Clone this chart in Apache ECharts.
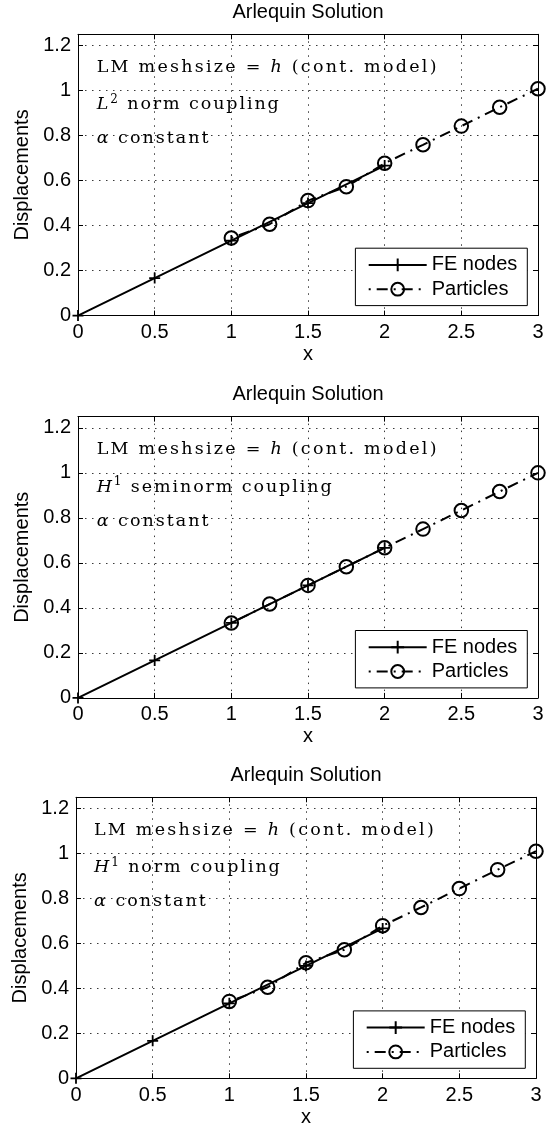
<!DOCTYPE html>
<html>
<head>
<meta charset="utf-8">
<script src="https://cdn.jsdelivr.net/npm/echarts@6/dist/echarts.min.js"></script>
<style>
html,body{margin:0;padding:0;background:#fff;}
#chart{width:550px;height:1133px;}
</style>
</head>
<body>
<div id="chart"></div>
<script>
// ---------------- data ----------------
const xFE = [0, 0.5, 1, 1.5, 2];
const yFE = [0, 0.1667, 0.3333, 0.5, 0.6667];
const xParticles = [1, 1.25, 1.5, 1.75, 2, 2.25, 2.5, 2.75, 3];
const yParticlesL2norm = [0.345, 0.406, 0.511, 0.573, 0.677, 0.759, 0.842, 0.926, 1.008];
const yParticlesH1seminorm = [0.333, 0.417, 0.5, 0.583, 0.667, 0.75, 0.833, 0.917, 1.0];
const yParticlesH1norm = [0.342, 0.405, 0.514, 0.572, 0.679, 0.760, 0.844, 0.928, 1.010];
const xTickValues = [0, 0.5, 1, 1.5, 2, 2.5, 3];
const xTickLabels = ['0', '0.5', '1', '1.5', '2', '2.5', '3'];
const yTickValues = [0, 0.2, 0.4, 0.6, 0.8, 1, 1.2];
const yTickLabels = ['0', '0.2', '0.4', '0.6', '0.8', '1', '1.2'];
const yMax = 1.25;
const panelTitle = 'Arlequin Solution';
const xAxisName = 'x';
const yAxisName = 'Displacements';
const seriesNames = ['FE nodes', 'Particles'];
const annotationLine1 = [['r', 'LM meshsize = '], ['i', 'h'], ['r', ' (cont. model)']];
const annotationLine2 = [
  [['i', 'L'], ['sup', '2'], ['r', ' norm coupling']],
  [['i', 'H'], ['sup', '1'], ['r', ' seminorm coupling']],
  [['i', 'H'], ['sup', '1'], ['r', ' norm coupling']]
];
const annotationLine3 = [['i', 'α'], ['r', ' constant']];
const particleSets = [yParticlesL2norm, yParticlesH1seminorm, yParticlesH1norm];

// ---------------- layout ----------------
const panels = [
  { left: 78, top: 34.3, width: 460, height: 281.3, textX: 96.7 },
  { left: 78, top: 416.6, width: 460, height: 281.3, textX: 96.7 },
  { left: 76, top: 797.3, width: 460, height: 281, textX: 94 }
];

const FONT = 'Liberation Sans, Arial, sans-serif';
const SERIF = 'DejaVu Serif, serif';
const TEXT_COLOR = '#1a1a1a';
const plusPath = 'path://M5,0L5,10M0,5L10,5';

function labelFor(values, labels) {
  return function (v) {
    for (let k = 0; k < values.length; k++) {
      if (Math.abs(values[k] - v) < 1e-6) return labels[k];
    }
    return '';
  };
}

function spaced(parts) {
  let s = '';
  parts.forEach(([style, str]) => {
    if (style === 'sup') { s += '{sup|' + str + '}'; return; }
    for (const ch of str) s += '{' + style + '|' + ch + '}';
  });
  return s;
}
function richStyles(gap) {
  return {
    r: { fontFamily: SERIF, fontSize: 17.5, lineHeight: 22, color: TEXT_COLOR, padding: [0, gap, 0, 0] },
    i: { fontFamily: SERIF, fontSize: 17.5, fontStyle: 'italic', lineHeight: 22, color: TEXT_COLOR, padding: [0, gap, 0, 0] },
    sup: { fontFamily: SERIF, fontSize: 12, lineHeight: 10, verticalAlign: 'top', color: TEXT_COLOR, padding: [0, gap, 0, 0] }
  };
}

const grid = [], xAxis = [], yAxis = [], series = [], legend = [], graphic = [];

panels.forEach((p, i) => {
  grid.push({ left: p.left, top: p.top, width: p.width, height: p.height, outerBoundsMode: 'none', containLabel: false });
  const tick = { show: true, inside: true, length: 5, lineStyle: { color: '#000', width: 1 } };
  const line = { show: true, onZero: false, lineStyle: { color: '#000', width: 1 } };
  xAxis.push({
    type: 'value', gridIndex: i, position: 'bottom',
    min: xTickValues[0], max: xTickValues[xTickValues.length - 1], interval: 0.5,
    axisLine: line, axisTick: tick,
    axisLabel: { show: true, margin: 7, color: '#000', fontFamily: FONT, fontSize: 20, formatter: labelFor(xTickValues, xTickLabels) },
    splitLine: { show: true, lineStyle: { color: '#3a3a3a', width: 1, type: [1.5, 5.5] } },
    name: xAxisName, nameLocation: 'middle', nameGap: 29,
    nameTextStyle: { color: '#000', fontFamily: FONT, fontSize: 20 }
  });
  xAxis.push({
    type: 'value', gridIndex: i, position: 'top',
    min: xTickValues[0], max: xTickValues[xTickValues.length - 1], interval: 0.5,
    axisLine: line, axisTick: tick, axisLabel: { show: false }, splitLine: { show: false }
  });
  yAxis.push({
    type: 'value', gridIndex: i, position: 'left',
    min: yTickValues[0], max: yMax, interval: 0.2,
    axisLine: line, axisTick: tick,
    axisLabel: { show: true, margin: 7, color: '#000', fontFamily: FONT, fontSize: 20, formatter: labelFor(yTickValues, yTickLabels) },
    splitLine: { show: true, lineStyle: { color: '#3a3a3a', width: 1, type: [1.5, 5.5] } },
    name: yAxisName, nameLocation: 'middle', nameGap: 45, nameRotate: 90,
    nameTextStyle: { color: '#000', fontFamily: FONT, fontSize: 20 }
  });
  yAxis.push({
    type: 'value', gridIndex: i, position: 'right',
    min: yTickValues[0], max: yMax, interval: 0.2,
    axisLine: line, axisTick: tick, axisLabel: { show: false }, splitLine: { show: false }
  });

  series.push({
    name: seriesNames[0], type: 'line', xAxisIndex: 2 * i, yAxisIndex: 2 * i,
    data: xFE.map((x, k) => [x, yFE[k]]),
    symbol: plusPath, symbolSize: 11, showSymbol: true, clip: false,
    lineStyle: { color: '#000', width: 2 },
    itemStyle: { color: 'none', borderColor: '#000', borderWidth: 1.8 },
    emphasis: { disabled: true }, silent: true, z: 3
  });
  series.push({
    name: seriesNames[1], type: 'line', xAxisIndex: 2 * i, yAxisIndex: 2 * i,
    data: xParticles.map((x, k) => [x, particleSets[i][k]]),
    symbol: 'circle', symbolSize: 13.5, showSymbol: true, clip: false,
    lineStyle: { color: '#000', width: 2, type: [11, 6, 2, 6], dashOffset: 17 },
    itemStyle: { color: 'none', borderColor: '#000', borderWidth: 2 },
    emphasis: { disabled: true }, silent: true, z: 4
  });

  const legendRight = 550 - (p.left + p.width - 10.7);
  legend.push({
    data: seriesNames, orient: 'vertical', right: legendRight, top: p.top + p.height - 10 - 57.4,
    itemWidth: 58, itemHeight: 16, itemGap: 4.3,
    padding: [6.7, 10, 6.4, 12.3],
    borderColor: '#000', borderWidth: 1, backgroundColor: '#fff', borderRadius: 0,
    selectedMode: false,
    textStyle: { color: '#000', fontFamily: FONT, fontSize: 20 }
  });

  const cx = p.left + p.width / 2;
  graphic.push({
    type: 'text', x: cx, y: p.top - 22, silent: true,
    style: { text: panelTitle, fill: '#000', font: '20px ' + FONT, align: 'center', verticalAlign: 'middle' }
  });
  const lines = [[annotationLine1, 39, 2.25], [annotationLine2[i], 76.5, 1.9], [annotationLine3, 110.5, 2.0]];
  lines.forEach(([parts, baseOff, gap]) => {
    graphic.push({
      type: 'text', x: p.textX, y: p.top + baseOff - 6, silent: true, z: 10,
      style: { text: spaced(parts), rich: richStyles(gap), align: 'left', verticalAlign: 'middle' }
    });
  });
});

const chart = echarts.init(document.getElementById('chart'), null, { renderer: 'canvas', width: 550, height: 1133 });
chart.setOption({
  animation: false,
  backgroundColor: '#fff',
  grid, xAxis, yAxis, series, legend, graphic
});
</script>
</body>
</html>
